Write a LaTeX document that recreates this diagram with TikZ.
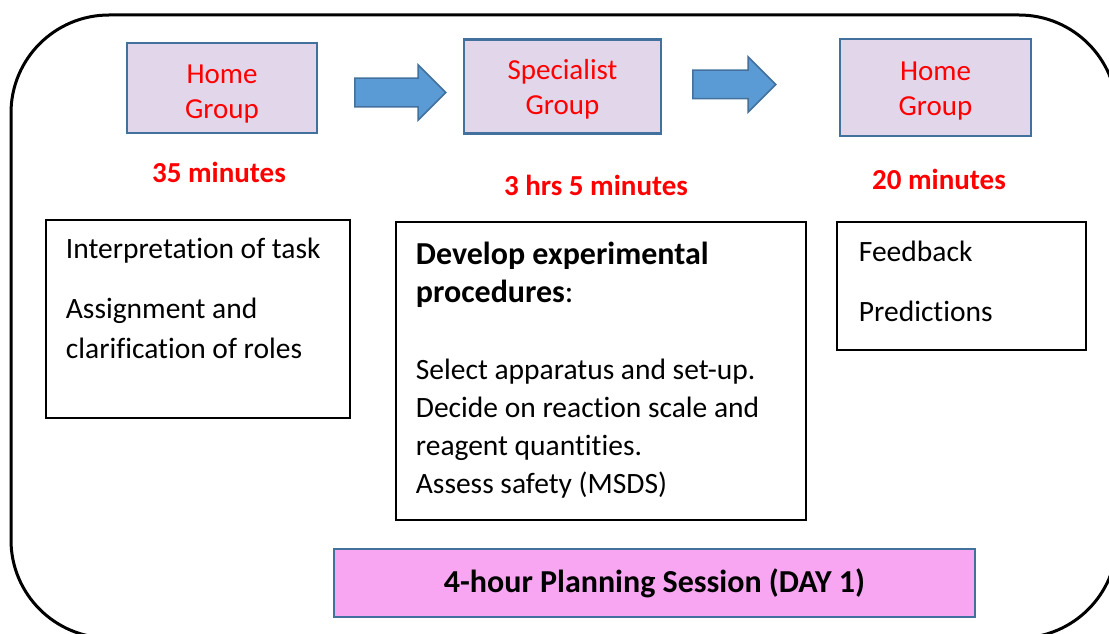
\documentclass[tikz,border=0pt]{standalone}
\usepackage{fontspec}
\setmainfont[Ligatures=NoCommon]{Carlito}
\usetikzlibrary{shapes.arrows, positioning}
\definecolor{grpfill}{RGB}{226,214,234}
\definecolor{grpline}{RGB}{65,113,156}
\definecolor{arrfill}{RGB}{91,155,213}
\definecolor{sessfill}{RGB}{249,166,242}

\begin{document}
\begin{tikzpicture}[x=1pt, y=-1pt,
    group/.style={draw=grpline, line width=2.5pt, fill=grpfill, text=red, align=center, inner sep=0pt, font=\fontsize{29pt}{35pt}\selectfont},
    timing/.style={text=red, font=\bfseries\fontsize{29pt}{35pt}\selectfont},
    task/.style={draw=black, line width=1.8pt, anchor=north west, inner sep=0pt, font=\fontsize{29.5pt}{38pt}\selectfont},
    flow/.style={single arrow, draw=grpline, line width=1.5pt, fill=arrfill, anchor=tail, single arrow head extend=13.5pt, single arrow head indent=0pt, inner xsep=0pt, inner ysep=13.5pt}]
    \useasboundingbox (0,0) rectangle (1109,634);
    % outer frame
    \draw[line width=3pt, rounded corners=98pt] (11,15) rectangle (1117,638);
    % group boxes and arrows
    \node[group, minimum width=190pt, minimum height=90pt] (home1) at (222,88) {\rule{0pt}{30pt}Home\\Group};
    \node[group, minimum width=197pt, minimum height=94pt] (spec) at (562.5,86.5) {\rule{0pt}{26pt}Specialist\\Group};
    \node[group, minimum width=191pt, minimum height=97pt] (home2) at (935.5,87.5) {\rule{0pt}{26pt}Home\\Group};
    \node[flow, minimum height=91pt] (arr1) at (354,92.5) {};
    \node[flow, minimum height=83pt] (arr2) at (692,84.5) {};
    % times
    \node[timing] (t1) at (219,172) {35 minutes};
    \node[timing] (t2) at (596,185) {3 hrs 5 minutes};
    \node[timing] (t3) at (939,179) {20 minutes};
    % tasks
    \node[task] (taskA) at (45,219) {\parbox[c][198pt][t]{304pt}{\leftskip=20pt\relax\baselineskip=40pt
        \vspace*{18pt}Interpretation of task\par\vspace{20pt}Assignment and\\clarification of roles}};
    \node[task] (taskB) at (395,221) {\parbox[c][298pt][t]{410pt}{\leftskip=20pt\relax
        \vspace*{20pt}{\fontsize{32pt}{37pt}\selectfont\textbf{Develop experimental\\procedures}:}\\[39pt]Select apparatus and set-up.\\Decide on reaction scale and\\reagent quantities.\\Assess safety (MSDS)}};
    \node[task] (taskC) at (836,221) {\parbox[c][128pt][t]{249pt}{\leftskip=22pt\relax
        \vspace*{19pt}Feedback\par\vspace{22pt}Predictions}};
    % session bar
    \node[draw=grpline, line width=2.5pt, fill=sessfill, minimum width=641pt, minimum height=68pt, font=\bfseries\fontsize{32pt}{37pt}\selectfont] (session) at (654.5,583) {4-hour Planning Session (DAY 1)};
\end{tikzpicture}
\end{document}
